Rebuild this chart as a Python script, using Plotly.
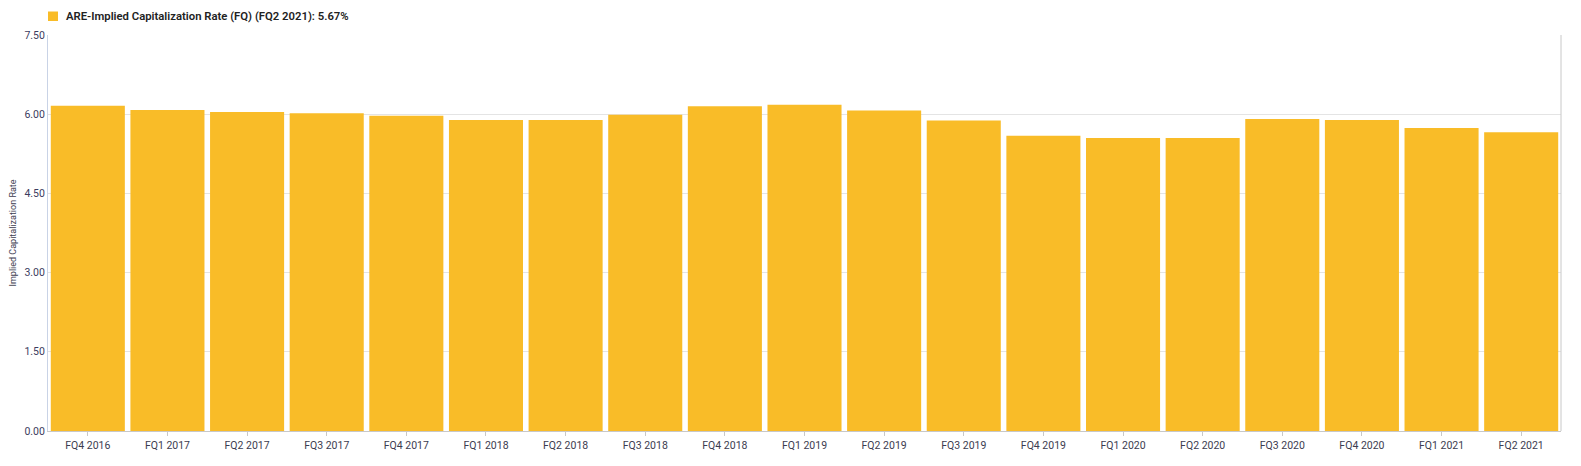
import plotly.graph_objects as go

categories = ["FQ4 2016", "FQ1 2017", "FQ2 2017", "FQ3 2017", "FQ4 2017", "FQ1 2018",
              "FQ2 2018", "FQ3 2018", "FQ4 2018", "FQ1 2019", "FQ2 2019", "FQ3 2019",
              "FQ4 2019", "FQ1 2020", "FQ2 2020", "FQ3 2020", "FQ4 2020", "FQ1 2021",
              "FQ2 2021"]
values = [6.16, 6.08, 6.04, 6.02, 5.97, 5.89, 5.89, 5.99, 6.15, 6.18, 6.07, 5.88,
          5.59, 5.55, 5.55, 5.91, 5.89, 5.74, 5.66]
y_ticks = [0, 1.5, 3.0, 4.5, 6.0, 7.5]
y_tick_labels = ["0.00", "1.50", "3.00", "4.50", "6.00", "7.50"]
series_name = "ARE-Implied Capitalization Rate (FQ) (FQ2 2021): 5.67%"
bar_color = "#F9BC28"

# page has an 8px body margin, so the figure is offset by 8px
OFF = 8
W, H = 1581 - OFF, 466 - OFF
ML, MR, MT, MB = 48 - OFF, 20, 35 - OFF, 35

fig = go.Figure()
fig.add_trace(go.Bar(
    x=categories, y=values, name=series_name,
    marker=dict(color=bar_color, line=dict(width=0)),
    showlegend=False,
))

pw, ph = W - ML - MR, H - MT - MB
def px_x(px):  # page pixel -> paper
    return (px - OFF - ML) / pw
def px_y(py):
    return (H - MB - (py - OFF)) / ph

fig.update_layout(
    width=W, height=H,
    margin=dict(l=ML, r=MR, t=MT, b=MB, autoexpand=False),
    paper_bgcolor="white", plot_bgcolor="white",
    bargap=0.07,
    font=dict(family="Roboto, Arial, sans-serif", size=10, color="#3c3c50"),
    xaxis=dict(
        showgrid=False, showline=True, linecolor="#c8c8c8", linewidth=1,
        ticks="outside", ticklen=4, tickcolor="#c8c8c8",
        tickfont=dict(size=10.5, color="#3c3c50"),
        zeroline=False, fixedrange=True,
    ),
    yaxis=dict(
        range=[0, 7.5], tickvals=y_ticks, ticktext=y_tick_labels,
        showgrid=True, gridcolor="#e4e4e4", gridwidth=1,
        showline=True, linecolor="#c9d3e6", linewidth=1,
        zeroline=False, ticks="", ticklen=0,
        tickfont=dict(size=10.5, color="#3c3c60"),
        title=dict(text="Implied Capitalization Rate", font=dict(size=9, color="#3c3c50"), standoff=12),
    ),
    shapes=[
        dict(type="line", xref="paper", yref="paper", x0=1, x1=1, y0=0, y1=1,
             line=dict(color="#c8c8c8", width=1)),
        dict(type="rect", xref="paper", yref="paper",
             x0=px_x(48), x1=px_x(58), y0=px_y(21), y1=px_y(11.5),
             fillcolor=bar_color, line=dict(width=0)),
    ],
    annotations=[
        dict(text=series_name, xref="paper", yref="paper", x=px_x(63.5), y=px_y(16.5),
             xanchor="left", yanchor="middle", showarrow=False,
             font=dict(size=11.3, color="#222222", family="Roboto, Arial, sans-serif", weight=600)),
    ],
)

fig.write_html("out.html")
